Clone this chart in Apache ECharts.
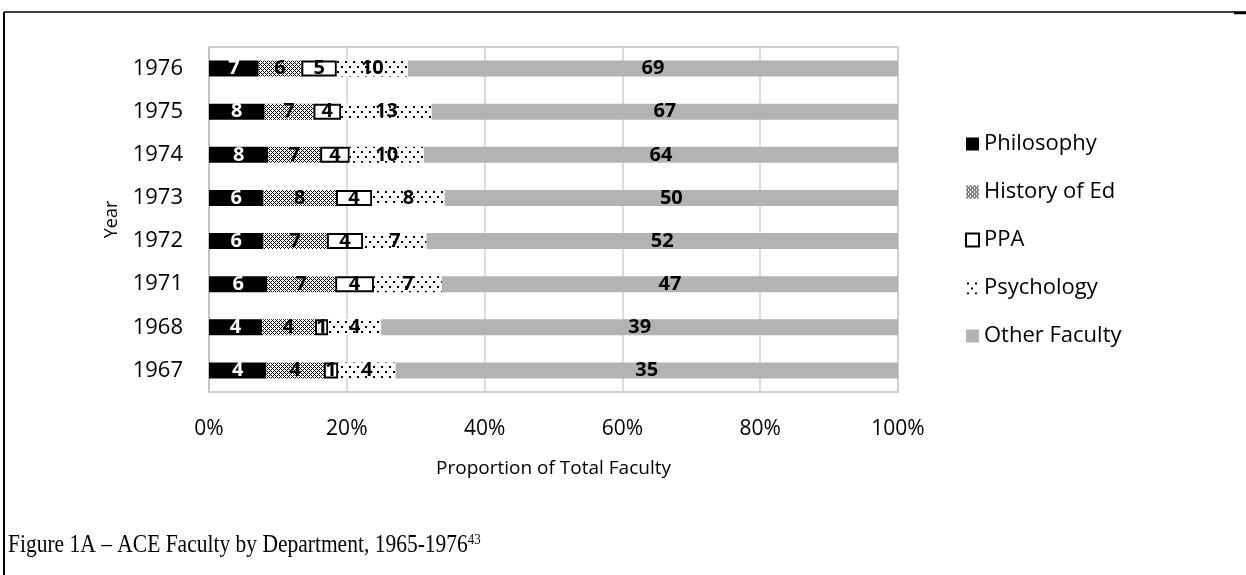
<!DOCTYPE html>
<html>
<head>
<meta charset="utf-8">
<script src="https://cdn.jsdelivr.net/npm/echarts@6/dist/echarts.min.js"></script>
<style>
    html, body { margin: 0; padding: 0; background: #fff; }
    #chart { width: 1246px; height: 575px; }
</style>
</head>
<body>
<div id="chart"></div>
<script>
// years, bottom to top
const years = ['1967', '1968', '1971', '1972', '1973', '1974', '1975', '1976'];
const departments = ['Philosophy', 'History of Ed', 'PPA', 'Psychology', 'Other Faculty'];
const philosophy = [4, 4, 6, 6, 6, 8, 8, 7];
const historyOfEd = [4, 4, 7, 7, 8, 7, 7, 6];
const ppa = [1, 1, 4, 4, 4, 4, 4, 5];
const psychology = [4, 4, 7, 7, 8, 10, 13, 10];
const otherFaculty = [35, 39, 47, 52, 50, 64, 67, 69];
const xTicks = [0, 20, 40, 60, 80, 100];

const counts = [philosophy, historyOfEd, ppa, psychology, otherFaculty];
const totals = years.map((y, i) => counts.reduce((s, arr) => s + arr[i], 0));

const FONT = '"Open Sans", Lato, sans-serif';

// small tiled patterns for the hatched fills
function makeTile(w, h, draw) {
    const c = document.createElement('canvas');
    c.width = w;
    c.height = h;
    const ctx = c.getContext('2d');
    ctx.fillStyle = '#fff';
    ctx.fillRect(0, 0, w, h);
    ctx.fillStyle = '#000';
    draw(ctx);
    return c;
}

const hatchTile = makeTile(4, 4, ctx => {
    for (let x = 0; x < 4; x++) {
        for (let y = 0; y < 4; y++) {
            if ((x + y) % 4 === 0 || ((x - y) + 4) % 4 === 0) ctx.fillRect(x, y, 1, 1);
        }
    }
    ctx.fillRect(1, 1, 1, 1);
});

const dotTile = makeTile(8, 10, ctx => {
    ctx.fillRect(1, 1, 2, 2);
    ctx.fillRect(5, 6, 2, 2);
});

const fills = [
    { color: '#000' },
    { color: { image: hatchTile, repeat: 'repeat' } },
    { color: '#fff', borderColor: '#000', borderWidth: 2 },
    { color: { image: dotTile, repeat: 'repeat' } },
    { color: '#b3b3b3' }
];

const series = departments.map((name, k) => ({
    name: name,
    type: 'bar',
    stack: 'total',
    barWidth: 16,
    itemStyle: fills[k],
    label: {
        show: true,
        position: 'inside',
        fontFamily: FONT,
        fontWeight: 'bold',
        fontSize: 20,
        color: k === 0 ? '#fff' : '#000',
        formatter: p => String(counts[k][p.dataIndex])
    },
    data: counts[k].map((v, i) => v / totals[i] * 100)
}));

const chart = echarts.init(document.getElementById('chart'));
chart.setOption({
    backgroundColor: '#fff',
    animation: false,
    grid: {
        left: 209, top: 47, width: 689, height: 345,
        show: true, borderColor: '#c0c0c0', borderWidth: 1.5
    },
    legend: {
        orient: 'vertical',
        left: 960,
        top: 128,
        itemGap: 26,
        itemWidth: 13,
        itemHeight: 13,
        icon: 'rect',
        textStyle: { fontFamily: FONT, fontSize: 22, color: '#000' },
        data: departments
    },
    xAxis: {
        type: 'value',
        min: 0,
        max: 100,
        interval: 20,
        name: 'Proportion of Total Faculty',
        nameLocation: 'middle',
        nameGap: 67,
        nameTextStyle: { fontFamily: FONT, fontSize: 19, color: '#000' },
        axisLine: { show: false },
        axisTick: { show: false },
        axisLabel: {
            fontFamily: FONT, fontSize: 21, color: '#000', margin: 27,
            formatter: v => xTicks.includes(v) ? v + '%' : ''
        },
        splitLine: { lineStyle: { color: '#d0d0d0', width: 1.5 } }
    },
    yAxis: {
        type: 'category',
        data: years,
        name: 'Year',
        nameLocation: 'middle',
        nameGap: 88,
        nameRotate: 90,
        nameTextStyle: { fontFamily: FONT, fontSize: 18, color: '#000' },
        axisLine: { show: true, lineStyle: { color: '#c0c0c0', width: 1.5 } },
        axisTick: { show: false },
        axisLabel: { fontFamily: FONT, fontSize: 22, color: '#000', margin: 26 }
    },
    series: series,
    graphic: [
        { type: 'line', shape: { x1: 4, y1: 12, x2: 1246, y2: 12 }, style: { stroke: '#000', lineWidth: 1.5 } },
        { type: 'line', shape: { x1: 1234, y1: 13, x2: 1246, y2: 13 }, style: { stroke: '#000', lineWidth: 2.5 } },
        { type: 'line', shape: { x1: 4, y1: 12, x2: 4, y2: 575 }, style: { stroke: '#000', lineWidth: 2 } },
        {
            type: 'text',
            x: 8,
            y: 533,
            scaleX: 0.86,
            style: {
                text: '{m|Figure 1A – ACE Faculty by Department, 1965-1976}{s|43}',
                rich: {
                    m: { fontFamily: '"Liberation Serif", serif', fontSize: 25, fill: '#000', verticalAlign: 'bottom' },
                    s: { fontFamily: '"Liberation Serif", serif', fontSize: 15, fill: '#000', verticalAlign: 'top', padding: [0, 0, 10, 0] }
                }
            }
        }
    ]
});
</script>
</body>
</html>
